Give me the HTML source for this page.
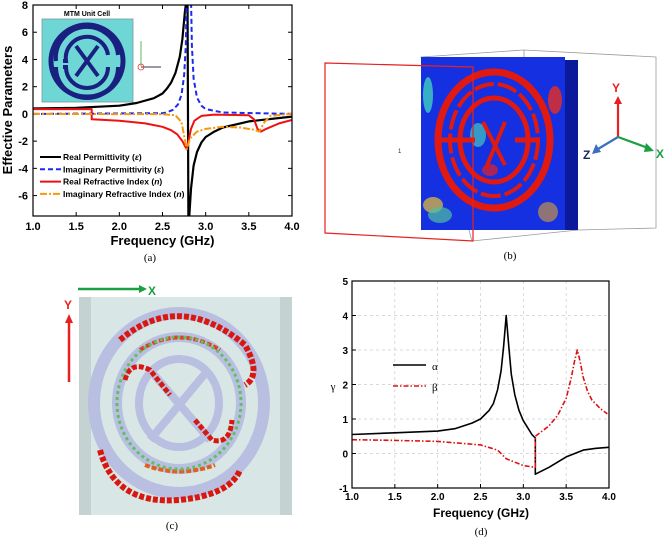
<!DOCTYPE html>
<html><head><meta charset="utf-8"><style>
html,body{margin:0;padding:0;background:#fff;width:668px;height:539px;overflow:hidden}
svg{font-family:"Liberation Sans",sans-serif}
.cap{font-family:"Liberation Serif",serif;font-size:11px}
</style></head><body>
<svg id="fig" width="668" height="539" viewBox="0 0 668 539">
<!-- Panel (b) -->
<g>
 <polygon points="421,57 524,50 656,57 656,228 578,230 472,241" fill="none" stroke="#999" stroke-width="0.8"/>
 <line x1="524" y1="50" x2="524" y2="60" stroke="#999" stroke-width="0.8"/>
 <rect x="421" y="57" width="144" height="173" fill="#1530e0"/>
 <rect x="565" y="60" width="13" height="170" fill="#0a1a9a"/>
 <ellipse cx="428" cy="95" rx="5" ry="18" fill="#3fd0c0" opacity="0.8"/>
 <ellipse cx="555" cy="100" rx="7" ry="14" fill="#e83020" opacity="0.8"/>
 <ellipse cx="433" cy="205" rx="10" ry="8" fill="#e8c030" opacity="0.7"/>
 <ellipse cx="440" cy="215" rx="12" ry="8" fill="#50c0a0" opacity="0.7"/>
 <ellipse cx="548" cy="212" rx="10" ry="10" fill="#e0a030" opacity="0.6"/>
 <ellipse cx="478" cy="135" rx="8" ry="12" fill="#40c8c0" opacity="0.7"/>
 <ellipse cx="490" cy="170" rx="8" ry="6" fill="#e82020" opacity="0.7"/>
 <g fill="none" stroke="#e01a10">
  <ellipse cx="494" cy="140" rx="56" ry="68" stroke-width="7"/>
  <ellipse cx="494" cy="140" rx="44" ry="56" stroke-width="4" stroke-dasharray="20 4"/>
  <ellipse cx="494" cy="140" rx="34" ry="42" stroke-width="5"/>
  <path d="M440,140 L475,140 M515,140 L540,140" stroke-width="5"/>
  <path d="M483,122 L505,165 M505,122 L486,168" stroke-width="4"/>
 </g>
 <polygon points="325,63 473,67 473,241 325,233" fill="none" stroke="#e82020" stroke-width="1.2"/>
 <text x="398" y="153" font-size="6" fill="#333">1</text>
 <g>
  <line x1="618" y1="137" x2="618" y2="103" stroke="#e82020" stroke-width="2.2"/>
  <polygon points="614,104 622,104 618,96" fill="#e82020"/>
  <text x="612" y="92" font-size="12" font-weight="bold" fill="#e82020">Y</text>
  <line x1="618" y1="137" x2="648" y2="148" stroke="#1aa040" stroke-width="2.2"/>
  <polygon points="646,143 644,152 654,151" fill="#1aa040"/>
  <text x="656" y="158" font-size="12" font-weight="bold" fill="#1aa040">X</text>
  <line x1="618" y1="137" x2="598" y2="149" stroke="#3a70c0" stroke-width="2.2"/>
  <polygon points="596,144 601,152 592,154" fill="#3a70c0"/>
  <text x="583" y="159" font-size="12" font-weight="bold" fill="#1a2a60">Z</text>
 </g>
 <text class="cap" x="510" y="259" text-anchor="middle">(b)</text>
</g>
<!-- Panel (c) -->
<g>
 <rect x="79" y="297" width="213" height="218" fill="#d8e6e6"/>
 <rect x="79" y="297" width="12" height="218" fill="#c5d2d2"/>
 <rect x="280" y="297" width="12" height="218" fill="#c5d2d2"/>
 <g fill="none" stroke="#b8bfe0">
  <ellipse cx="179" cy="403" rx="85" ry="90" stroke-width="12"/>
  <ellipse cx="179" cy="403" rx="62" ry="66" stroke-width="10"/>
  <ellipse cx="179" cy="403" rx="40" ry="44" stroke-width="8"/>
  <path d="M150,370 L210,440 M208,370 L150,440" stroke-width="8"/>
 </g>
 <g fill="none" stroke="#d81810" stroke-dasharray="5 2">
  <path d="M120,340 Q179,290 245,345 Q262,375 245,385" stroke-width="6"/>
  <path d="M100,450 Q115,505 179,500 Q230,495 240,470" stroke-width="6"/>
  <path d="M140,350 Q179,325 220,350" stroke-width="4" stroke="#e04020"/>
  <path d="M125,380 Q130,360 150,370 L170,395" stroke-width="5"/>
  <path d="M195,420 L212,440 Q230,445 232,420" stroke-width="5"/>
  <path d="M145,465 Q179,478 215,465" stroke-width="4" stroke="#e06020"/>
 </g>
 <g fill="none" stroke="#60c060" stroke-dasharray="3 3" stroke-width="3">
  <ellipse cx="179" cy="403" rx="62" ry="66"/>
 </g>
 <line x1="78" y1="289" x2="140" y2="289" stroke="#1aa040" stroke-width="2.5"/>
 <polygon points="139,285 147,289 139,293" fill="#1aa040"/>
 <text x="148" y="295" font-size="12" font-weight="bold" fill="#1aa040">X</text>
 <line x1="69" y1="382" x2="69" y2="322" stroke="#e82020" stroke-width="2.5"/>
 <polygon points="65,323 73,323 69,314" fill="#e82020"/>
 <text x="64" y="309" font-size="12" font-weight="bold" fill="#e82020">Y</text>
 <text class="cap" x="172" y="529" text-anchor="middle">(c)</text>
</g>
<g id="pa"></g>
<g id="pd"></g>
</svg>
<script>
// ---- Panel (a) data ----
const aXTicks = [1.0,1.5,2.0,2.5,3.0,3.5,4.0];
const aYTicks = [8,6,4,2,0,-2,-4,-6];
const epsReX = [1.0,1.5,2.0,2.2,2.4,2.5,2.55,2.6,2.65,2.7,2.73,2.76,2.79,2.8,2.81,2.83,2.86,2.9,2.95,3.0,3.1,3.2,3.5,4.0];
const epsReY = [0.4,0.45,0.6,0.8,1.15,1.5,1.85,2.3,3.0,4.2,5.5,7.5,9,-8,-7.5,-5.5,-3.8,-2.8,-2.1,-1.7,-1.3,-1.0,-0.55,-0.2];
const epsImX = [1.0,2.5,2.55,2.62,2.68,2.72,2.75,2.77,2.78,2.83,2.84,2.86,2.9,2.95,3.0,3.2,4.0];
const epsImY = [0,0.05,0.1,0.3,0.7,1.4,2.8,5,8.5,8.5,5,2.6,1.2,0.6,0.35,0.1,0];
const nReX = [1.0,1.68,1.68,2.0,2.3,2.5,2.6,2.67,2.73,2.78,2.8,2.83,2.87,2.95,3.1,3.5,3.56,3.6,3.64,3.7,3.85,4.0];
const nReY = [0.35,0.35,-0.4,-0.5,-0.7,-0.95,-1.2,-1.5,-2.0,-2.6,-2.0,-1.1,-0.5,-0.15,-0.05,-0.1,-0.4,-1.1,-1.3,-1.1,-0.7,-0.45];
const nImX = [1.0,2.5,2.65,2.72,2.78,2.82,2.9,3.0,3.2,3.4,3.55,3.62,3.68,3.75,4.0];
const nImY = [0,-0.02,-0.1,-0.6,-2.6,-1.8,-1.3,-1.1,-0.95,-1.0,-1.15,-1.3,-0.6,-0.15,0];
// ---- Panel (d) data ----
const dXTicks = [1.0,1.5,2.0,2.5,3.0,3.5,4.0];
const dYTicks = [5,4,3,2,1,0,-1];
const alphaX = [1.0,1.5,2.0,2.2,2.4,2.5,2.6,2.65,2.7,2.74,2.77,2.8,2.83,2.86,2.9,2.95,3.0,3.05,3.1,3.14,3.14,3.3,3.5,3.7,3.85,4.0];
const alphaY = [0.55,0.6,0.65,0.72,0.88,1.0,1.25,1.45,1.85,2.4,3.1,4.0,3.1,2.3,1.7,1.25,0.95,0.75,0.55,0.45,-0.6,-0.4,-0.1,0.1,0.15,0.18];
const betaX = [1.0,1.5,2.0,2.5,2.7,2.8,3.0,3.14,3.14,3.3,3.4,3.5,3.56,3.6,3.63,3.66,3.7,3.75,3.8,3.9,3.98];
const betaY = [0.4,0.38,0.35,0.25,0.1,-0.15,-0.35,-0.4,0.5,0.8,1.1,1.6,2.2,2.7,3.0,2.7,2.2,1.8,1.55,1.3,1.15];

const NS="http://www.w3.org/2000/svg";
function mk(parent,tag,attrs,text){const e=document.createElementNS(NS,tag);for(const k in attrs)e.setAttribute(k,attrs[k]);if(text!==undefined)e.textContent=text;parent.appendChild(e);return e;}
function lin(d0,d1,r0,r1){return v=>r0+(v-d0)*(r1-r0)/(d1-d0);}

// ===== Panel (a) =====
(function(){
 const g=document.getElementById('pa');
 const L=33,R=292,T=5,B=216;
 const sx=lin(1,4,L,R), sy=lin(8,-7.5,T,B);
 const cp=mk(g,'clipPath',{id:'clipA'});mk(cp,'rect',{x:L,y:T,width:R-L,height:B-T});
 aXTicks.forEach(v=>{
  const t=mk(g,'text',{x:sx(v),y:B+14,'text-anchor':'middle','font-size':11,'font-weight':'bold'},v.toFixed(1));
  
  
  mk(g,'line',{x1:sx(v),y1:B,x2:sx(v),y2:B-4,stroke:'#000'});
  mk(g,'line',{x1:sx(v),y1:T,x2:sx(v),y2:T+4,stroke:'#000'});
 });
 aYTicks.forEach(v=>{
  const t=mk(g,'text',{x:L-5,y:sy(v)+4,'text-anchor':'end','font-size':11,'font-weight':'bold'},v);
  
  
  mk(g,'line',{x1:L,y1:sy(v),x2:L+4,y2:sy(v),stroke:'#000'});
  mk(g,'line',{x1:R,y1:sy(v),x2:R-4,y2:sy(v),stroke:'#000'});
 });
 const xl=mk(g,'text',{x:(L+R)/2,y:245,'text-anchor':'middle','font-size':13,'font-weight':'bold'},'Frequency (GHz)');
 
 
 const yl=mk(g,'text',{x:0,y:0,transform:'translate(12,110) rotate(-90)','text-anchor':'middle','font-size':13,'font-weight':'bold'},'Effective Parameters');
 
 
 const ins=mk(g,'g',{});
 
 
 mk(ins,'rect',{x:42,y:19,width:91,height:83,fill:'#6fd6d6',stroke:'#7a9a9a','stroke-width':0.8});
 mk(ins,'circle',{cx:87,cy:61,r:36,fill:'none',stroke:'#1a2080','stroke-width':5});
 mk(ins,'path',{d:'M56,61 A31,31 0 0 1 118,55 M118,67 A31,31 0 0 1 56,67',fill:'none',stroke:'#1a2080','stroke-width':4});
 mk(ins,'path',{d:'M63,61 L66,61 A21,21 0 0 1 108,55 M108,67 A21,21 0 0 1 66,67 L63,67',fill:'none',stroke:'#1a2080','stroke-width':4});
 mk(ins,'path',{d:'M76,46 L98,76 M98,46 L76,76',stroke:'#1a2080','stroke-width':4});
 mk(ins,'text',{x:87,y:16,'text-anchor':'middle','font-size':7,'font-weight':'bold'},'MTM Unit Cell');
 mk(ins,'line',{x1:141,y1:41,x2:141,y2:66,stroke:'#3a3',"stroke-width":0.8});
 mk(ins,'line',{x1:141,y1:67,x2:161,y2:67,stroke:'#335',"stroke-width":1});
 mk(ins,'circle',{cx:141,cy:67,r:3,fill:'none',stroke:'#e33','stroke-width':0.8});
 const series=[
  [epsReX,epsReY,'#000','none',2.2,'real-permittivity-line'],
  [epsImX,epsImY,'#1a2af0','5 3',2,'imaginary-permittivity-line'],
  [nReX,nReY,'#f01010','none',2,'real-refractive-index-line'],
  [nImX,nImY,'#f59a10','7 2 2 2',2,'imaginary-refractive-index-line']];
 series.forEach(s=>{
  const p=s[0].map((x,i)=>(i?'L':'M')+sx(x).toFixed(1)+','+sy(s[1][i]).toFixed(1)).join('');
  const e=mk(g,'path',{d:p,fill:'none',stroke:s[2],'stroke-dasharray':s[3],'stroke-width':s[4],'stroke-linejoin':'round','clip-path':'url(#clipA)'});
  
  
 });
 mk(g,'rect',{x:L,y:T,width:R-L,height:B-T,fill:'none',stroke:'#000','stroke-width':1.2});
 const legs=[['Real Permittivity (','ε',')','#000','none'],['Imaginary Permittivity (','ε',')','#1a2af0','5 3'],['Real Refractive Index (','n',')','#f01010','none'],['Imaginary Refractive Index (','n',')','#f59a10','7 2 2 2']];
 legs.forEach((l,i)=>{
  const y=157+i*12.3;
  const lg=mk(g,'g',{});
  
  
  mk(lg,'line',{x1:40,y1:y,x2:61,y2:y,stroke:l[3],'stroke-width':2,'stroke-dasharray':l[4]});
  const t=mk(lg,'text',{x:63,y:y+3,'font-size':8.5,'font-weight':'bold'});
  mk(t,'tspan',{},l[0]);mk(t,'tspan',{'font-style':'italic'},l[1]);mk(t,'tspan',{},l[2]);
 });
 const c=mk(g,'text',{x:150,y:261,'text-anchor':'middle','class':'cap'},'(a)');
 
 
})();

// ===== Panel (d) =====
(function(){
 const g=document.getElementById('pd');
 const L=352,R=609,T=281,B=488;
 const sx=lin(1,4,L,R), sy=lin(5,-1,T,B);
 const cp=mk(g,'clipPath',{id:'clipD'});mk(cp,'rect',{x:L,y:T,width:R-L,height:B-T});
 dXTicks.forEach(v=>{
  mk(g,'line',{x1:sx(v),y1:T,x2:sx(v),y2:B,stroke:'#ccc','stroke-dasharray':'3 3','stroke-width':0.7});
  const t=mk(g,'text',{x:sx(v),y:B+12,'text-anchor':'middle','font-size':10,'font-weight':'bold'},v.toFixed(1));
  
  
  mk(g,'line',{x1:sx(v),y1:B,x2:sx(v),y2:B-4,stroke:'#000'});
 });
 dYTicks.forEach(v=>{
  mk(g,'line',{x1:L,y1:sy(v),x2:R,y2:sy(v),stroke:'#ccc','stroke-dasharray':'3 3','stroke-width':0.7});
  const t=mk(g,'text',{x:L-4,y:sy(v)+4,'text-anchor':'end','font-size':10,'font-weight':'bold'},v);
  
  
  mk(g,'line',{x1:L,y1:sy(v),x2:L+4,y2:sy(v),stroke:'#000'});
 });
 const xl=mk(g,'text',{x:481,y:517,'text-anchor':'middle','font-size':12,'font-weight':'bold'},'Frequency (GHz)');
 
 
 const yl=mk(g,'text',{x:333,y:390,'text-anchor':'middle','font-size':11,'class':'cap'},'γ');
 
 
 const ss=[[alphaX,alphaY,'#000','none','alpha-line'],[betaX,betaY,'#e01010','5 2 1.5 2','beta-line']];
 ss.forEach(s=>{
  const p=s[0].map((x,i)=>(i?'L':'M')+sx(x).toFixed(1)+','+sy(s[1][i]).toFixed(1)).join('');
  const e=mk(g,'path',{d:p,fill:'none',stroke:s[2],'stroke-dasharray':s[3],'stroke-width':1.6,'stroke-linejoin':'round','clip-path':'url(#clipD)'});
  
  
 });
 mk(g,'rect',{x:L,y:T,width:R-L,height:B-T,fill:'none',stroke:'#000','stroke-width':1.2});
 [['α','#000','none',365],['β','#e01010','5 2 1.5 2',386]].forEach(l=>{
  const lg=mk(g,'g',{});
  
  
  mk(lg,'line',{x1:393,y1:l[3],x2:426,y2:l[3],stroke:l[1],'stroke-width':1.6,'stroke-dasharray':l[2]});
  mk(lg,'text',{x:432,y:l[3]+5,'font-size':14,'class':'cap'},l[0]);
 });
 const c=mk(g,'text',{x:481,y:535,'text-anchor':'middle','class':'cap'},'(d)');
 
 
})();
</script>
</body></html>
